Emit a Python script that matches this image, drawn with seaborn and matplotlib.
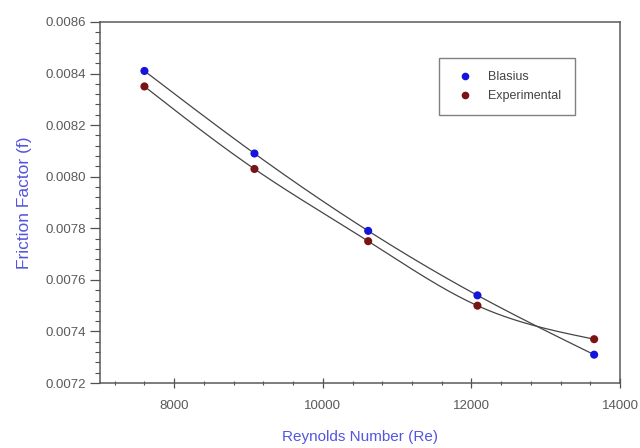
import numpy as np
import pandas as pd
import matplotlib
matplotlib.use("Agg")
import matplotlib.pyplot as plt
from matplotlib.ticker import MultipleLocator, FormatStrFormatter
import seaborn as sns

# values
reynolds = [7600, 9080, 10610, 12080, 13650]
blasius = [0.00841, 0.00809, 0.00779, 0.00754, 0.00731]
experimental = [0.00835, 0.00803, 0.00775, 0.00750, 0.00737]
series_names = ["Blasius", "Experimental"]
series_colors = ["#1414dc", "#7a1414"]


def natural_spline(x, y, xs):
    # smooth line through the points, like the original spline connector
    x = np.asarray(x, float)
    y = np.asarray(y, float)
    n = len(x)
    h = np.diff(x)
    A = np.zeros((n, n))
    b = np.zeros(n)
    A[0, 0] = 1
    A[-1, -1] = 1
    for i in range(1, n - 1):
        A[i, i - 1] = h[i - 1]
        A[i, i] = 2 * (h[i - 1] + h[i])
        A[i, i + 1] = h[i]
        b[i] = 3 * ((y[i + 1] - y[i]) / h[i] - (y[i] - y[i - 1]) / h[i - 1])
    c = np.linalg.solve(A, b)
    out = np.empty_like(xs)
    for k, xv in enumerate(xs):
        i = min(max(np.searchsorted(x, xv) - 1, 0), n - 2)
        dx = xv - x[i]
        bi = (y[i + 1] - y[i]) / h[i] - h[i] * (2 * c[i] + c[i + 1]) / 3
        di = (c[i + 1] - c[i]) / (3 * h[i])
        out[k] = y[i] + bi * dx + c[i] * dx ** 2 + di * dx ** 3
    return out


df = pd.DataFrame({
    "Re": reynolds * 2,
    "f": blasius + experimental,
    "Series": [series_names[0]] * len(reynolds) + [series_names[1]] * len(reynolds),
})

sns.set_style("white")
plt.rcParams["font.family"] = ["Liberation Sans", "DejaVu Sans"]

fig = plt.figure(figsize=(6.4, 4.48), dpi=100)
ax = fig.add_axes([0.156, 0.145, 0.813, 0.806])

# spline curves
xs = np.linspace(min(reynolds), max(reynolds), 300)
for vals in (blasius, experimental):
    ax.plot(xs, natural_spline(reynolds, vals, xs), color="#454545", lw=0.9, zorder=2)

sns.scatterplot(data=df, x="Re", y="f", hue="Series", palette=series_colors,
                s=34, edgecolor="none", ax=ax, zorder=3, legend=False)

ax.set_xlim(7000, 14000)
ax.set_ylim(0.0072, 0.0086)
ax.xaxis.set_major_locator(MultipleLocator(2000))
ax.xaxis.set_minor_locator(MultipleLocator(400))
ax.yaxis.set_major_locator(MultipleLocator(0.0002))
ax.yaxis.set_minor_locator(MultipleLocator(0.00004))
ax.yaxis.set_major_formatter(FormatStrFormatter("%.4f"))
ax.xaxis.set_major_formatter(FormatStrFormatter("%d"))

ax.tick_params(top=False, right=False, bottom=True, left=True, which="both")
ax.tick_params(axis="y", which="major", direction="out", length=7, width=0.9,
               color="#505050", labelsize=9.5, labelcolor="#5a5a5a", pad=3)
ax.tick_params(axis="y", which="minor", direction="out", length=3.5, width=0.8,
               color="#505050")
ax.tick_params(axis="x", which="major", direction="inout", length=7, width=0.9,
               color="#505050", labelsize=9.5, labelcolor="#5a5a5a", pad=9)
ax.tick_params(axis="x", which="minor", direction="inout", length=3.5, width=0.8,
               color="#505050")

for sp in ax.spines.values():
    sp.set_color("#5a5a5a")
    sp.set_linewidth(1.1)

ax.set_xlabel("Reynolds Number (Re)", color="#5555dd", fontsize=11, labelpad=13)
ax.set_ylabel("Friction Factor (f)", color="#5555dd", fontsize=12.5, labelpad=10)

handles = [plt.Line2D([], [], ls="none", marker="o", markersize=5.5,
                      markerfacecolor=c, markeredgecolor="none") for c in series_colors]
leg = ax.legend(handles, series_names, loc="upper left", bbox_to_anchor=(0.652, 0.9),
                frameon=True, fancybox=False, fontsize=9, borderpad=1.05,
                labelspacing=0.55, handletextpad=0.9, borderaxespad=0, handlelength=2.0)
leg.get_frame().set_edgecolor("#606060")
leg.get_frame().set_linewidth(1.0)
for t in leg.get_texts():
    t.set_color("#444444")

fig.savefig("out.png", dpi=100)
